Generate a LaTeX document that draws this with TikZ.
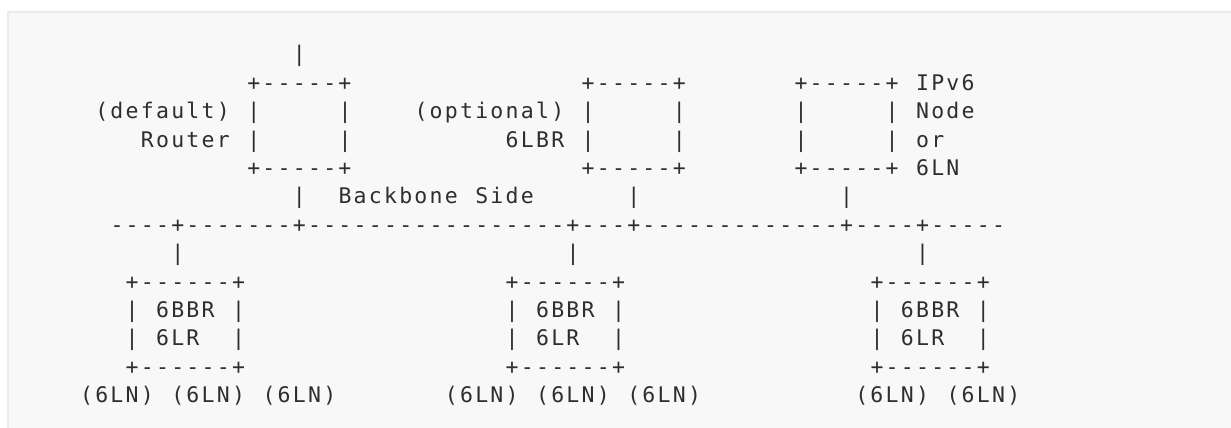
\documentclass[tikz,border=0pt]{standalone}
\usepackage{fontspec}
\setmonofont[LetterSpace=10.5]{DejaVu Sans Mono}
\usepackage{tikz}
\definecolor{panelbg}{HTML}{F8F8F8}
\definecolor{panelrule}{HTML}{EBEBEB}
\definecolor{asciitext}{HTML}{2E2E2E}
\tikzset{
    ascii/.style={anchor=base west, inner sep=0pt, text=asciitext,
        font=\ttfamily\fontsize{21.5}{28.4}\selectfont}
}

\begin{document}
\begin{tikzpicture}[x=1pt,y=-1pt]
    \useasboundingbox (0,0) rectangle (1231,428);
    % Panel
    \fill[panelbg] (7,11) rectangle (1231,428);
    \draw[panelrule, line width=2pt] (8,428) -- (8,12) -- (1231,12);

    % Figure text, cut at blanks: column/row/text
    \foreach \cl/\rw/\tx in {
        16/1/|,
        13/2/+-----+, 35/2/+-----+, 49/2/+-----+, 57/2/IPv6,
        3/3/(default), 13/3/|, 19/3/|, 24/3/(optional), 35/3/|, 41/3/|, 49/3/|, 55/3/|, 57/3/Node,
        6/4/Router, 13/4/|, 19/4/|, 30/4/6LBR, 35/4/|, 41/4/|, 49/4/|, 55/4/|, 57/4/or,
        13/5/+-----+, 35/5/+-----+, 49/5/+-----+, 57/5/6LN,
        16/6/|, 19/6/Backbone, 28/6/Side, 38/6/|, 52/6/|,
        4/7/----+-------+-----------------+---+-------------+----+-----,
        8/8/|, 34/8/|, 57/8/|,
        5/9/+------+, 30/9/+------+, 54/9/+------+,
        5/10/|, 7/10/6BBR, 12/10/|, 30/10/|, 32/10/6BBR, 37/10/|, 54/10/|, 56/10/6BBR, 61/10/|,
        5/11/|, 7/11/6LR, 12/11/|, 30/11/|, 32/11/6LR, 37/11/|, 54/11/|, 56/11/6LR, 61/11/|,
        5/12/+------+, 30/12/+------+, 54/12/+------+,
        2/13/(6LN), 8/13/(6LN), 14/13/(6LN), 26/13/(6LN), 32/13/(6LN), 38/13/(6LN), 53/13/(6LN), 59/13/(6LN)}
        \node[ascii] (t\rw c\cl) at ({49.5+15.2*\cl},{61.8+28.4*(\rw-1)}) {\tx};
\end{tikzpicture}
\end{document}
